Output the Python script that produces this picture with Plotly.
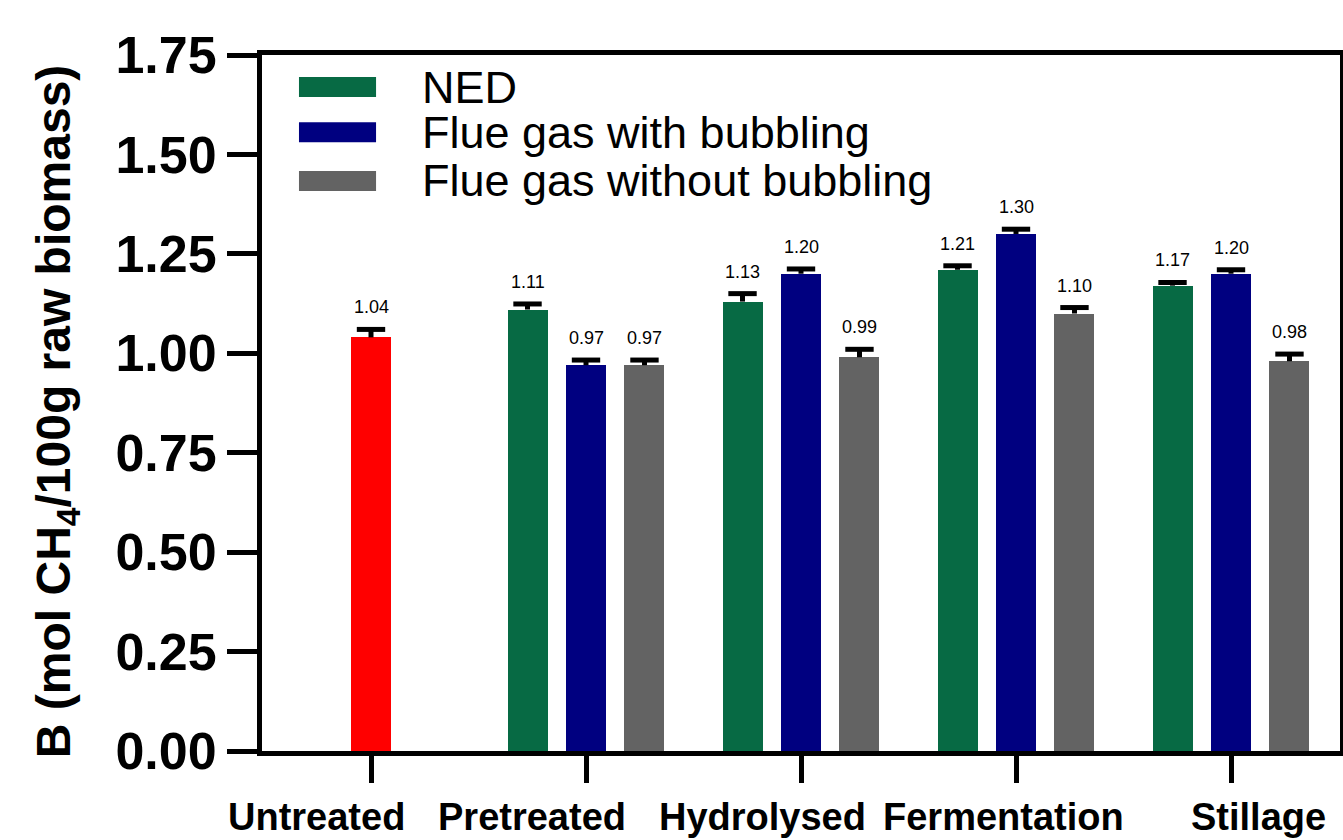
import plotly.graph_objects as go

categories = ["Untreated", "Pretreated", "Hydrolysed", "Fermentation", "Stillage"]

untreated_value = [1.04]
untreated_err = [0.02]

series_names = ["NED", "Flue gas with bubbling", "Flue gas without bubbling"]
ned_values = [1.11, 1.13, 1.21, 1.17]
ned_err = [0.014, 0.02, 0.01, 0.008]
bubbling_values = [0.97, 1.20, 1.30, 1.20]
bubbling_err = [0.013, 0.012, 0.012, 0.01]
nobubbling_values = [0.97, 0.99, 1.10, 0.98]
nobubbling_err = [0.013, 0.02, 0.015, 0.018]

y_ticks = [0.0, 0.25, 0.5, 0.75, 1.0, 1.25, 1.5, 1.75]

colors = {"Untreated": "#FF0000", "NED": "#076A44",
          "Flue gas with bubbling": "#000080",
          "Flue gas without bubbling": "#636363"}

FONT = "Arial, Liberation Sans, sans-serif"
BAR_W = 0.186
OFFS = [-0.272, 0.0, 0.272]
CAP_HALF = 0.066  # half-width of error-bar cap in axis units
# horizontal shift of each category label relative to its tick (axis units)
LABEL_SHIFT = [-0.255, -0.252, -0.181, -0.056, 0.126]

fig = go.Figure()

def add_bars(xs, vals, errs, color):
    fig.add_trace(go.Bar(
        x=xs, y=vals, width=BAR_W, marker=dict(color=color, line=dict(width=0)),
        showlegend=False, hoverinfo="y"))
    # upper-only error bars (stem + cap)
    ex, ey = [], []
    for x, v, e in zip(xs, vals, errs):
        ex += [x, x, None, x - CAP_HALF, x + CAP_HALF, None]
        ey += [v, v + e, None, v + e, v + e, None]
    fig.add_trace(go.Scatter(x=ex, y=ey, mode="lines",
                             line=dict(color="black", width=5),
                             showlegend=False, hoverinfo="skip"))

def add_labels(xs, vals, errs):
    for x, v, e in zip(xs, vals, errs):
        fig.add_annotation(x=x, y=v + e, text=f"{v:.2f}", showarrow=False,
                           xanchor="center", yanchor="bottom", yshift=10,
                           font=dict(family=FONT, size=18, color="black"))

# Untreated single bar
add_bars([0], untreated_value, untreated_err, colors["Untreated"])
add_labels([0], untreated_value, untreated_err)

group_data = [(ned_values, ned_err), (bubbling_values, bubbling_err),
              (nobubbling_values, nobubbling_err)]
for k, (name, (vals, errs)) in enumerate(zip(series_names, group_data)):
    xs = [i + 1 + OFFS[k] for i in range(len(vals))]
    add_bars(xs, vals, errs, colors[name])
    add_labels(xs, vals, errs)

# Category labels
for i, (cat, sh) in enumerate(zip(categories, LABEL_SHIFT)):
    fig.add_annotation(x=i + sh, xref="x", y=0, yref="paper", text=cat,
                       showarrow=False, xanchor="center", yanchor="top", yshift=-43,
                       font=dict(family=FONT, size=38, color="black", weight="bold"))

# Y-axis title
fig.add_annotation(xref="paper", yref="paper", x=-0.19, y=0.4885,
                   text="B (mol CH<sub>4</sub>/100g raw biomass)", textangle=-90,
                   showarrow=False, xanchor="center", yanchor="middle",
                   font=dict(family=FONT, size=48, color="black", weight="bold"))

# Manual legend
legend_y = [0.954, 0.889, 0.819]
for name, yc in zip(series_names, legend_y):
    fig.add_shape(type="rect", xref="paper", yref="paper",
                  x0=0.0343, x1=0.1058, y0=yc - 0.0144, y1=yc + 0.0144,
                  fillcolor=colors[name], line=dict(width=0))
    fig.add_annotation(xref="paper", yref="paper", x=0.1466, y=yc, text=name,
                       showarrow=False, xanchor="left", yanchor="middle",
                       font=dict(family=FONT, size=45, color="black"))

fig.update_layout(
    width=1343, height=840,
    margin=dict(l=262, r=3, t=55, b=89),
    plot_bgcolor="white", paper_bgcolor="white",
    bargap=0, barmode="overlay",
    font=dict(family=FONT, color="black"),
    xaxis=dict(
        range=[-0.507, 4.507], tickmode="array",
        tickvals=list(range(len(categories))), ticktext=[""] * len(categories),
        tickangle=0, automargin=False,
        ticks="outside", ticklen=27, tickwidth=5, tickcolor="black",
        showline=True, linewidth=5, linecolor="black", mirror=True,
        showgrid=False, zeroline=False,
    ),
    yaxis=dict(
        range=[0, 1.75], tickmode="array", tickvals=y_ticks,
        ticktext=[f"{t:.2f}" for t in y_ticks], automargin=False,
        ticks="outside", ticklen=30, tickwidth=5, tickcolor="black",
        showline=True, linewidth=5, linecolor="black", mirror=True,
        showgrid=False, zeroline=False,
        tickfont=dict(family=FONT, size=52, color="black", weight="bold"),
    ),
)

fig.write_html("out.html", config={"displayModeBar": False},
               post_script="document.body.style.margin='0';document.body.style.padding='0';"
                           "document.body.style.overflow='hidden';")
